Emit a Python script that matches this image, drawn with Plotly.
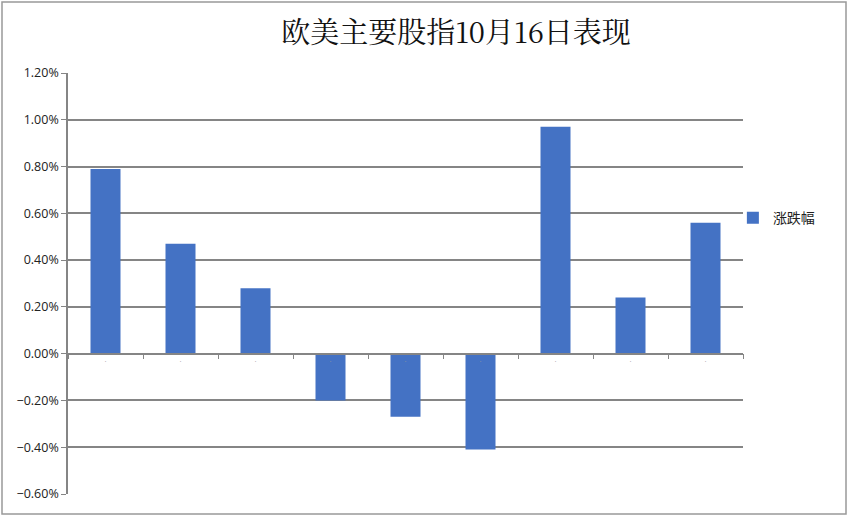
import plotly.graph_objects as go

categories = ["c1", "c2", "c3", "c4", "c5", "c6", "c7", "c8", "c9"]
tick_labels = ["·"] * 9
values = [0.0079, 0.0047, 0.0028, -0.0020, -0.0027, -0.0041, 0.0097, 0.0024, 0.0056]
series_name = "涨跌幅"
title = "欧美主要股指10月16日表现"

fig = go.Figure()
fig.add_trace(go.Bar(
    x=categories, y=values, name=series_name,
    marker=dict(color="#4472C4", line=dict(width=0)),
    width=0.4,
))

fig.update_layout(
    template="none",
    width=851, height=517,
    margin=dict(l=68, r=108, t=73, b=23, autoexpand=False),
    paper_bgcolor="white", plot_bgcolor="white",
    title=dict(text=title, x=456/851, xanchor="center", y=1-33/517, yanchor="middle",
               font=dict(family="Noto Serif CJK SC, Noto Sans CJK SC, serif", size=29, color="#111")),
    showlegend=True,
    legend=dict(x=0.985, y=0.655, xanchor="left", yanchor="middle",
                font=dict(family="Noto Sans CJK SC", size=14, color="#222"),
                itemwidth=30, bgcolor="rgba(0,0,0,0)"),
    font=dict(family="Open Sans, Liberation Sans", size=12, color="#222"),
    bargap=0.6,
)
fig.update_yaxes(
    automargin=False,
    range=[-0.006, 0.012], dtick=0.002, tickformat=".2%",
    showgrid=True, gridcolor="#858585", gridwidth=1.5,
    showline=True, linecolor="#858585", linewidth=1.5,
    ticks="outside", ticklen=5, tickcolor="#858585",
    zeroline=False, tickfont=dict(size=12.5),
)
fig.update_xaxes(
    automargin=False,
    type="category", tickmode="array", tickvals=categories, ticktext=tick_labels,
    anchor="free", position=1/3,
    showline=True, linecolor="#858585", linewidth=1.5,
    ticks="outside", tickson="boundaries", ticklen=5, tickcolor="#858585",
    tickfont=dict(size=8, color="#999"), showgrid=False,
)
fig.add_shape(type="rect", xref="paper", yref="paper",
              x0=-66/675, x1=(846-68)/675, y0=-20/421, y1=(73-2)/421 + 1,
              line=dict(color="#999", width=1.5), fillcolor="rgba(0,0,0,0)", layer="below")

fig.write_html("out.html", config={"displayModeBar": False},
               post_script="document.body.style.margin='0';")
